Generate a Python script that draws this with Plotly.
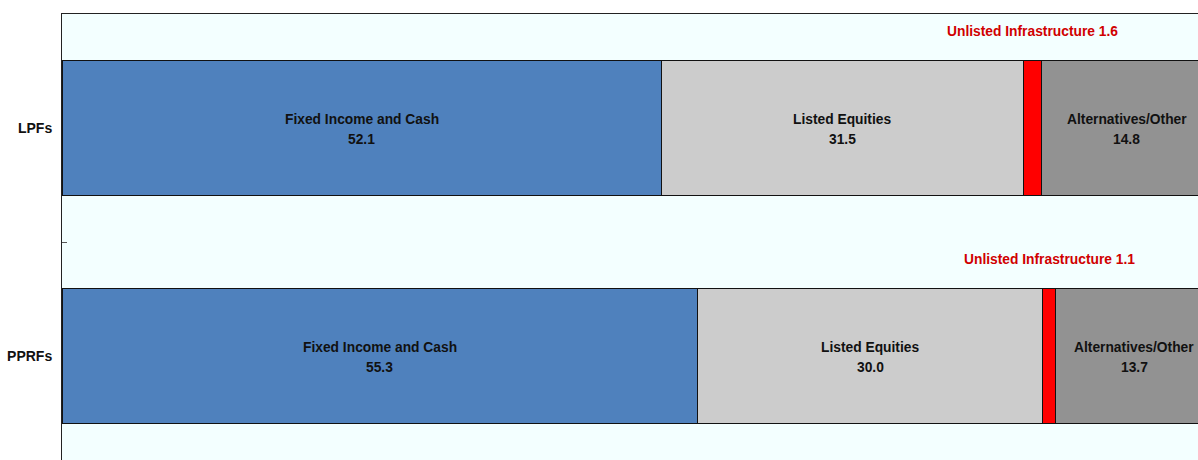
import plotly.graph_objects as go

categories = ["LPFs", "PPRFs"]
series_names = ["Fixed Income and Cash", "Listed Equities", "Unlisted Infrastructure", "Alternatives/Other"]
values = {
    "Fixed Income and Cash": [52.1, 55.3],
    "Listed Equities": [31.5, 30.0],
    "Unlisted Infrastructure": [1.6, 1.1],
    "Alternatives/Other": [14.8, 13.7],
}
colors = {
    "Fixed Income and Cash": "#4F81BD",
    "Listed Equities": "#CCCCCC",
    "Unlisted Infrastructure": "#FF0000",
    "Alternatives/Other": "#929292",
}

FONT = "Liberation Sans, Arial, sans-serif"
ypos = list(range(len(categories)))
fig = go.Figure()
for name in series_names:
    fig.add_trace(go.Bar(
        y=ypos, x=values[name], orientation="h", name=name,
        width=0.592,
        marker=dict(color=colors[name], line=dict(color="#111111", width=1)),
        hoverinfo="x+name",
    ))

annotations = []
font_b = dict(family=FONT, size=13.8, color="#111111")
for i, cat in enumerate(categories):
    left = 0.0
    for name in series_names:
        v = values[name][i]
        center = left + v / 2
        if name == "Unlisted Infrastructure":
            annotations.append(dict(
                x=center, y=i, xref="x", yref="y", showarrow=False,
                text=f"<b>{name} {v:.1f}</b>", yshift=97,
                font=dict(family=FONT, size=13.8, color="#D00000"),
            ))
        else:
            annotations.append(dict(
                x=center, y=i, xref="x", yref="y", showarrow=False,
                text=f"<b>{name}</b>", yshift=9, font=font_b,
            ))
            annotations.append(dict(
                x=center, y=i, xref="x", yref="y", showarrow=False,
                text=f"<b>{v:.1f}</b>", yshift=-11, font=font_b,
            ))
        left += v

fig.update_layout(
    width=1198, height=460,
    margin=dict(l=62, r=0, t=14, b=0, autoexpand=False),
    barmode="stack",
    showlegend=False,
    paper_bgcolor="white",
    plot_bgcolor="#F3FFFF",
    annotations=annotations,
    xaxis=dict(range=[0, 98.8], showgrid=False, zeroline=False, showticklabels=False,
               ticks="", showline=True, side="top", linecolor="#222222", linewidth=1,
               automargin=False),
    yaxis=dict(range=[1.456, -0.5], showgrid=False, zeroline=False,
               tickmode="array", tickvals=ypos,
               ticktext=[f"<b>{c}</b>" for c in categories],
               ticks="", ticklabelstandoff=6, automargin=False,
               tickfont=dict(family=FONT, size=14, color="#111111"),
               showline=True, linecolor="#222222", linewidth=1,
               minor=dict(tickvals=[0.5], ticks="inside", ticklen=5, tickcolor="#555555", tickwidth=1)),
    font=dict(family=FONT),
)

fig.write_html(
    "out.html",
    config={"displayModeBar": False},
    post_script="document.body.style.margin='0';document.body.style.overflow='hidden';",
)
